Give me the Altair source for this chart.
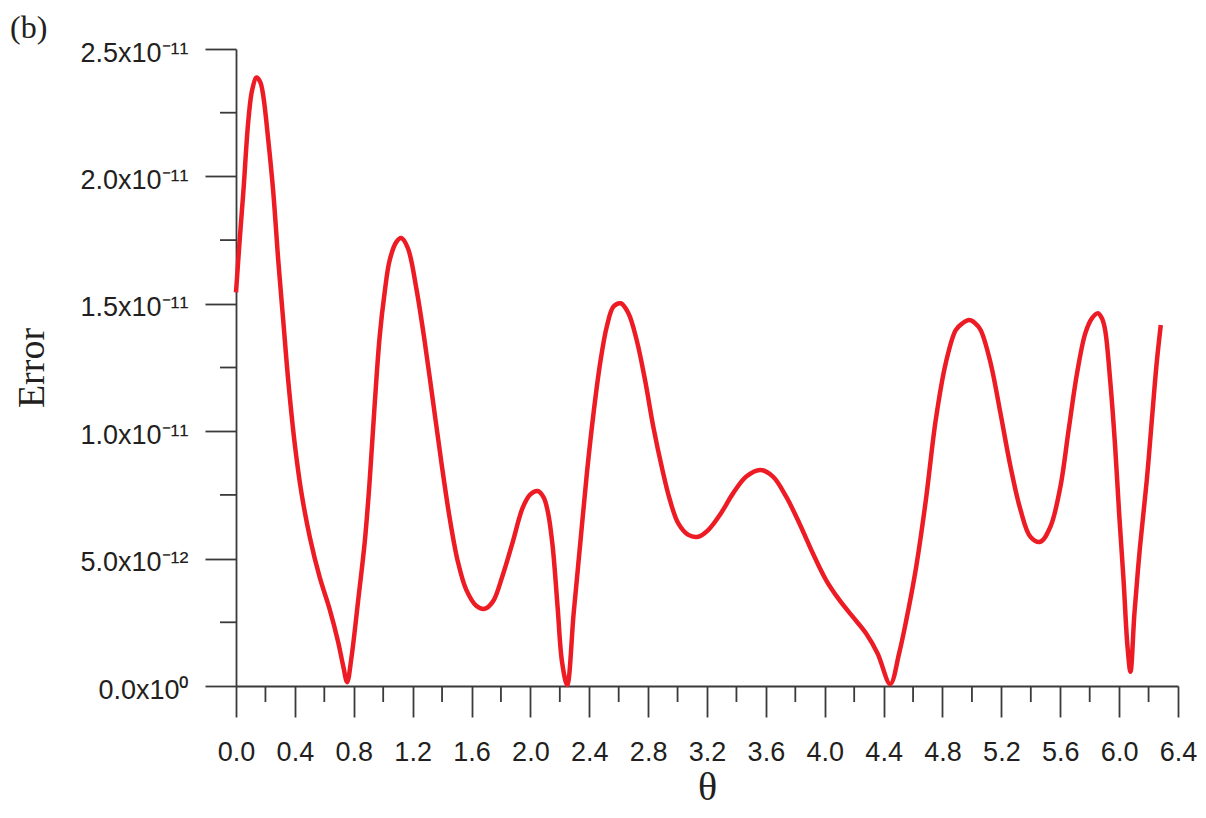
import altair as alt
import pandas as pd

# theta (rad) and error (in units of 1e-11)
theta = [0.000, 0.025, 0.050, 0.084, 0.110, 0.140, 0.165, 0.185, 0.219, 0.253,
         0.287, 0.321, 0.355, 0.400, 0.445, 0.502, 0.569, 0.637, 0.694, 0.728,
         0.755, 0.784, 0.829, 0.875, 0.908, 0.942, 0.976, 1.010, 1.044, 1.089,
         1.123, 1.168, 1.225, 1.281, 1.338, 1.394, 1.451, 1.507, 1.564, 1.632,
         1.688, 1.745, 1.812, 1.880, 1.948, 2.000, 2.050, 2.090, 2.120, 2.151,
         2.185, 2.215, 2.250, 2.294, 2.339, 2.384, 2.429, 2.474, 2.519, 2.565,
         2.614, 2.666, 2.722, 2.779, 2.835, 2.892, 2.948, 3.005, 3.073, 3.140,
         3.208, 3.287, 3.377, 3.467, 3.562, 3.648, 3.738, 3.828, 3.919, 4.009,
         4.099, 4.190, 4.280, 4.359, 4.445, 4.506, 4.551, 4.619, 4.687, 4.754,
         4.822, 4.890, 4.935, 4.980, 5.020, 5.059, 5.127, 5.194, 5.262, 5.330,
         5.397, 5.465, 5.533, 5.601, 5.657, 5.714, 5.770, 5.815, 5.856, 5.883,
         5.905, 5.939, 5.973, 6.000, 6.030, 6.057, 6.077, 6.104, 6.142, 6.188,
         6.226, 6.255, 6.283]
error_e11 = [1.545, 1.750, 1.940, 2.220, 2.340, 2.388, 2.370, 2.317, 2.144, 1.940,
             1.671, 1.434, 1.198, 0.946, 0.757, 0.583, 0.426, 0.300, 0.173, 0.079,
             0.015, 0.110, 0.331, 0.567, 0.804, 1.103, 1.371, 1.545, 1.671, 1.742,
             1.758, 1.718, 1.561, 1.356, 1.119, 0.883, 0.662, 0.489, 0.378, 0.315,
             0.303, 0.331, 0.435, 0.565, 0.700, 0.752, 0.765, 0.740, 0.680, 0.550,
             0.310, 0.095, 0.004, 0.285, 0.560, 0.835, 1.070, 1.267, 1.410, 1.489,
             1.502, 1.463, 1.358, 1.201, 1.018, 0.861, 0.730, 0.638, 0.593, 0.586,
             0.612, 0.671, 0.756, 0.822, 0.848, 0.822, 0.743, 0.638, 0.521, 0.416,
             0.338, 0.272, 0.207, 0.128, 0.008, 0.130, 0.250, 0.460, 0.730, 1.044,
             1.267, 1.397, 1.423, 1.436, 1.425, 1.397, 1.267, 1.070, 0.861, 0.691,
             0.586, 0.566, 0.625, 0.782, 1.005, 1.227, 1.384, 1.443, 1.463, 1.443,
             1.397, 1.201, 0.939, 0.678, 0.416, 0.154, 0.056, 0.285, 0.547, 0.808,
             1.070, 1.267, 1.417]

x_major = [0.0, 0.4, 0.8, 1.2, 1.6, 2.0, 2.4, 2.8, 3.2, 3.6, 4.0, 4.4, 4.8, 5.2, 5.6, 6.0, 6.4]
x_minor = [0.2, 0.6, 1.0, 1.4, 1.8, 2.2, 2.6, 3.0, 3.4, 3.8, 4.2, 4.6, 5.0, 5.4, 5.8, 6.2]
y_major = [0.0, 5e-12, 1e-11, 1.5e-11, 2e-11, 2.5e-11]
y_minor = [2.5e-12, 7.5e-12, 1.25e-11, 1.75e-11, 2.25e-11]
y_labels = ["0.0x10⁰", "5.0x10⁻¹²", "1.0x10⁻¹¹", "1.5x10⁻¹¹", "2.0x10⁻¹¹", "2.5x10⁻¹¹"]
panel_label = ["(b)"]

W, H = 942, 637
AX = "#3a3a3a"
TXT = "#231f20"
RED = "#ED1C24"

df = pd.DataFrame({"theta": theta, "err": [v * 1e-11 for v in error_e11]})

xscale = alt.Scale(domain=[0, 6.4], nice=False, zero=False)
yscale = alt.Scale(domain=[0, 2.5e-11], nice=False)

label_expr = "[" + ",".join("'" + s + "'" for s in y_labels) + "][round(datum.value / 5e-12)]"

line = alt.Chart(df).mark_line(color=RED, strokeWidth=4.5, interpolate="catmull-rom").encode(
    x=alt.X("theta:Q", scale=xscale,
            axis=alt.Axis(values=x_major, format=".1f", title="θ",
                          tickSize=31, tickWidth=1.8, tickColor=AX,
                          domainColor=AX, domainWidth=1.8,
                          labelFont="Liberation Sans", labelFontSize=27, labelColor=TXT,
                          labelPadding=22, labelFlush=False, labelOverlap=False,
                          titleFont="Liberation Serif", titleFontSize=40, titleFontWeight="normal",
                          titleColor=TXT, titleY=113, titleBaseline="alphabetic", grid=False)),
    y=alt.Y("err:Q", scale=yscale,
            axis=alt.Axis(values=y_major, labelExpr=label_expr, title="Error",
                          tickSize=31, tickWidth=1.8, tickColor=AX,
                          domainColor=AX, domainWidth=1.8,
                          labelFont="Liberation Sans", labelFontSize=27, labelColor=TXT,
                          labelPadding=17, labelOffset=4, labelFlush=False, labelOverlap=False,
                          labelBaseline="middle",
                          titleFont="Liberation Serif", titleFontSize=38, titleFontWeight="normal",
                          titleColor=TXT, titleX=-193, titleY=H / 2, titleAngle=270,
                          titleAlign="center", titleBaseline="alphabetic", grid=False)),
)

yminor = alt.Chart(pd.DataFrame({"err": y_minor})).mark_rule(color=AX, strokeWidth=1.8).encode(
    y=alt.Y("err:Q", scale=yscale),
    x=alt.value(-16),
    x2=alt.value(0),
)

xminor = alt.Chart(pd.DataFrame({"theta": x_minor})).mark_rule(color=AX, strokeWidth=1.8).encode(
    x=alt.X("theta:Q", scale=xscale),
    y=alt.value(H),
    y2=alt.value(H + 16),
)

panel = alt.Chart(pd.DataFrame({"label": panel_label})).mark_text(
    font="Liberation Serif", fontSize=32, color=TXT, align="left", baseline="alphabetic"
).encode(
    text="label:N",
    x=alt.value(-226),
    y=alt.value(-11),
)

chart = alt.layer(line, yminor, xminor, panel).properties(
    width=W, height=H,
    background="white",
    autosize=alt.AutoSizeParams(type="none"),
    padding={"left": 228, "top": 41, "right": 20, "bottom": 124},
).configure_view(stroke="transparent", strokeWidth=0)

chart.save("out.html", embed_options={"renderer": "svg", "actions": False})
